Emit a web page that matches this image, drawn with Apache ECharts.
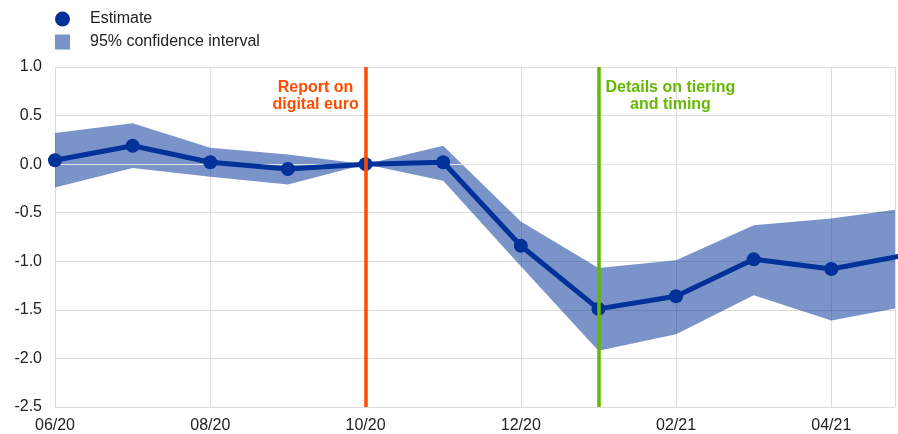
<!DOCTYPE html>
<html>
<head>
<meta charset="utf-8">
<script src="https://cdn.jsdelivr.net/npm/echarts@6/dist/echarts.min.js"></script>
<style>html,body{margin:0;padding:0;background:#fff}#c{width:898px;height:434px}</style>
</head>
<body>
<div id="c"></div>
<script>
var months = ['06/20','07/20','08/20','09/20','10/20','11/20','12/20','01/21','02/21','03/21','04/21','05/21'];
var estimate = [0.04, 0.19, 0.02, -0.05, 0.0, 0.02, -0.84, -1.49, -1.36, -0.98, -1.08, -0.93];
var upper = [0.32, 0.42, 0.17, 0.10, 0.0, 0.19, -0.59, -1.07, -0.99, -0.63, -0.56, -0.45];
var lower = [-0.24, -0.04, -0.13, -0.21, 0.0, -0.17, -1.05, -1.92, -1.75, -1.35, -1.61, -1.46];
var yTicks = [-2.5, -2.0, -1.5, -1.0, -0.5, 0.0, 0.5, 1.0];
var events = [
  {month: '10/20', text: 'Report on\ndigital euro', color: '#ff4b00', dx: -50},
  {month: '01/21', text: 'Details on tiering\nand timing', color: '#65b800', dx: 72}
];

var FONT = 'Liberation Sans, Arial, sans-serif';
var BAND = 'rgba(0,50,153,0.52)';
var chart = echarts.init(document.getElementById('c'));
function xi(m){ return months.indexOf(m); }

var bandData = months.map(function(m,i){ return [i, lower[i], upper[i]]; });
var estData = estimate.map(function(v,i){ return [i, v]; });

function renderBand(params, api){
  if (params.dataIndex !== 0) return;
  var pts = [];
  for (var i = 0; i < bandData.length; i++) pts.push(api.coord([bandData[i][0], bandData[i][2]]));
  for (var j = bandData.length - 1; j >= 0; j--) pts.push(api.coord([bandData[j][0], bandData[j][1]]));
  var cs = params.coordSys;
  return {
    type: 'group',
    clipPath: {type: 'rect', shape: {x: cs.x, y: cs.y, width: cs.width, height: cs.height}},
    children: [{type: 'polygon', shape: {points: pts}, style: {fill: BAND}}]
  };
}

chart.setOption({
  animation: false,
  textStyle: {fontFamily: FONT},
  legend: {
    orient: 'vertical', left: 55, top: 11, padding: 0, itemWidth: 15, itemHeight: 15, itemGap: 7,
    textStyle: {fontSize: 16, color: '#222', fontFamily: FONT, padding: [0,0,0,15]},
    data: [{name: 'Estimate', icon: 'circle'}, {name: '95% confidence interval', icon: 'rect'}]
  },
  grid: {left: 55, right: 2, top: 67, bottom: 25},
  xAxis: {
    type: 'value', min: 0, max: 10.82, interval: 2,
    axisLine: {lineStyle: {color: '#d9d9d9'}},
    axisTick: {show: false},
    splitLine: {show: true, lineStyle: {color: '#dcdcdc'}},
    axisLabel: {
      fontSize: 16, color: '#222', margin: 11, fontFamily: FONT,
      formatter: function(v){ return (Math.abs(v - Math.round(v)) < 1e-6 && months[Math.round(v)]) ? months[Math.round(v)] : ''; }
    }
  },
  yAxis: {
    type: 'value', min: yTicks[0], max: yTicks[yTicks.length-1], interval: 0.5,
    axisLine: {show: false},
    axisTick: {show: false},
    splitLine: {lineStyle: {color: '#dcdcdc'}},
    axisLabel: {fontSize: 16, color: '#222', margin: 13, fontFamily: FONT,
      formatter: function(v){ return v.toFixed(1); }}
  },
  series: [
    {
      name: '95% confidence interval', type: 'custom', renderItem: renderBand,
      data: bandData, encode: {x: 0, y: [1, 2]},
      itemStyle: {color: BAND}, silent: true, z: 1,
      markLine: {
        silent: true, symbol: 'none', z: 2,
        label: {show: false},
        lineStyle: {color: '#e2e2e2', width: 1.2, type: 'solid'},
        data: [{yAxis: 0}]
      }
    },
    {
      name: 'Estimate', type: 'line', data: estData,
      color: '#003299',
      symbol: 'circle', symbolSize: 14, showSymbol: true,
      lineStyle: {color: '#003299', width: 5},
      itemStyle: {color: '#003299'}, z: 3
    },
    {
      name: 'events', type: 'line', data: [], z: 6,
      markLine: {
        silent: true, symbol: 'none', label: {show: false},
        data: events.map(function(e){ return {xAxis: xi(e.month), lineStyle: {color: e.color, width: 3.5, type: 'solid'}}; })
      }
    }
  ]
});

var topPx = chart.convertToPixel({gridIndex: 0}, [0, yTicks[yTicks.length-1]])[1];
chart.setOption({
  graphic: events.map(function(e){
    var px = chart.convertToPixel({gridIndex: 0}, [xi(e.month), 0])[0];
    return {
      type: 'text', x: px + e.dx, y: topPx + 12, z: 10,
      style: {text: e.text, fill: e.color, font: 'bold 16px ' + FONT, align: 'center', verticalAlign: 'top', lineHeight: 17}
    };
  })
});
</script>
</body>
</html>
